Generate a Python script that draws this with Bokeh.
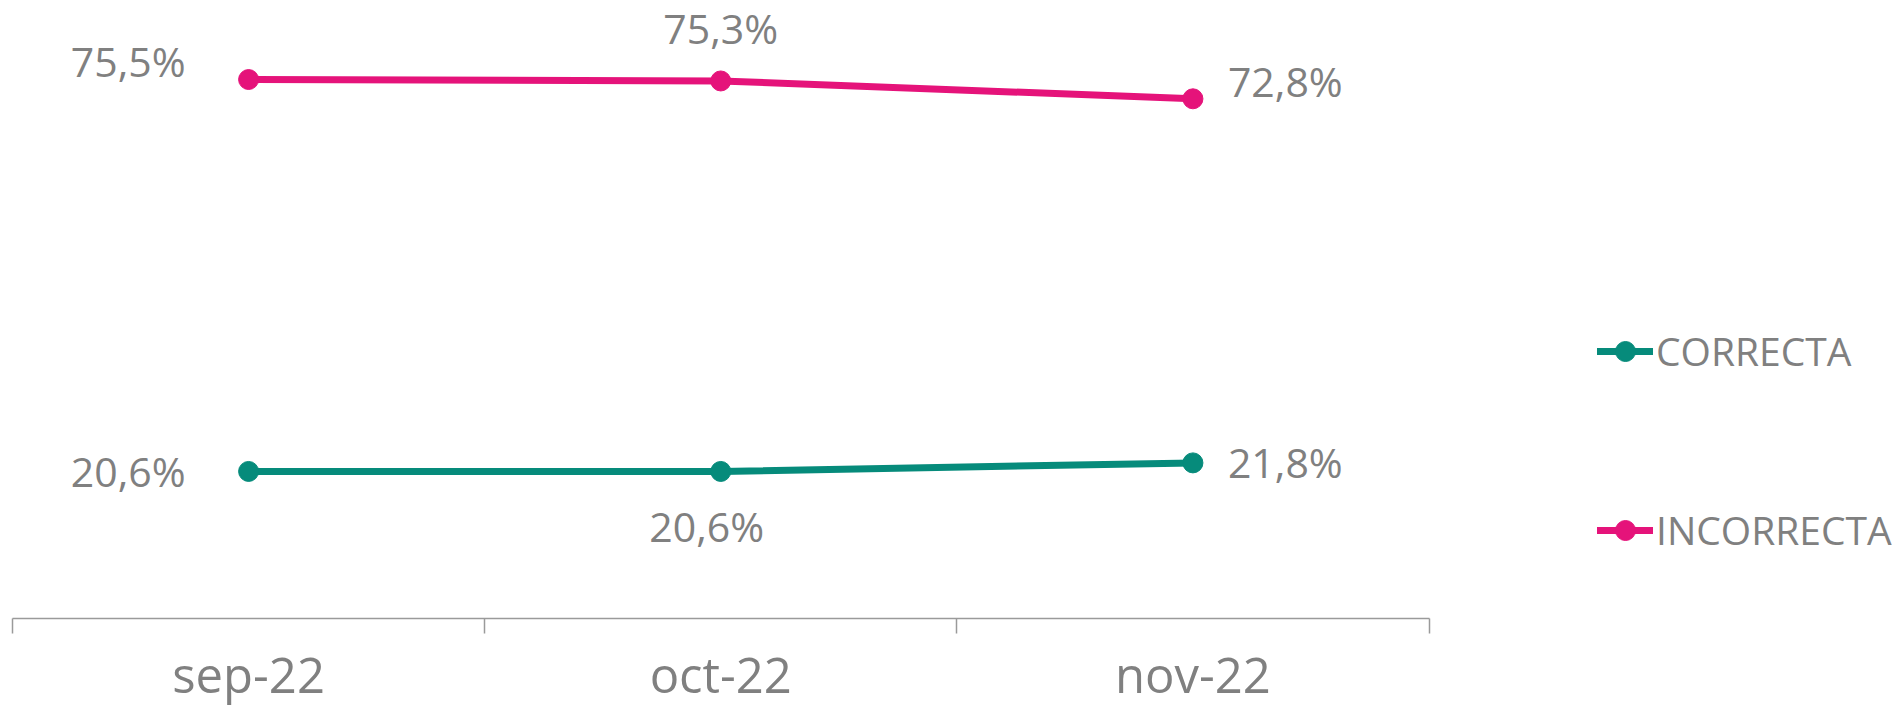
from bokeh.plotting import figure
from bokeh.models import Range1d, FixedTicker, LinearAxis, Legend, LegendItem
from bokeh.core.properties import value
from bokeh.embed import file_html
from bokeh.resources import INLINE

months = ["sep-22", "oct-22", "nov-22"]
correcta = [20.6, 20.6, 21.8]
incorrecta = [75.5, 75.3, 72.8]

TEAL = "#068B7B"
PINK = "#E5137A"
GRAY = "#808080"
AXIS_GRAY = "#9a9a9a"
FONT = "Open Sans"

xs = [i + 0.5 for i in range(len(months))]
bounds = [float(i) for i in range(len(months) + 1)]

p = figure(width=1903, height=711, output_backend="svg", toolbar_location=None,
           x_range=Range1d(-0.025414, 4.00492), y_range=Range1d(0, 86.57),
           min_border_left=0, min_border_right=0, min_border_top=0, min_border_bottom=93,
           x_axis_location=None, y_axis_location=None, outline_line_color=None)
p.xgrid.visible = False
p.ygrid.visible = False

axis = LinearAxis(ticker=FixedTicker(ticks=xs, minor_ticks=bounds), bounds=(0, len(months)),
                  major_label_overrides={x: m for x, m in zip(xs, months)},
                  major_tick_line_color=None, minor_tick_out=15, minor_tick_in=0,
                  minor_tick_line_color=AXIS_GRAY, minor_tick_line_width=1.5,
                  axis_line_color=AXIS_GRAY, axis_line_width=1.5,
                  major_label_text_font=FONT, major_label_text_font_size="49px",
                  major_label_text_color=GRAY, major_label_standoff=7)
p.add_layout(axis, "below")

r1 = p.line(xs, correcta, line_color=TEAL, line_width=7, line_cap="round")
s1 = p.scatter(xs, correcta, size=20, color=TEAL)
r2 = p.line(xs, incorrecta, line_color=PINK, line_width=7, line_cap="round")
s2 = p.scatter(xs, incorrecta, size=20, color=PINK)

def fmt(v):
    return f"{v:.1f}%".replace(".", ",")

# label placement per point: (align, dx, dy) in screen pixels
place_c = [("right", -63, 0), ("center", -14, 55), ("left", 35, -1)]
place_i = [("right", -63, -19), ("center", 0, -53), ("left", 35, -18)]

for vals, places in ((correcta, place_c), (incorrecta, place_i)):
    for x, v, (al, dx, dy) in zip(xs, vals, places):
        p.text(x=[x], y=[v], text=[fmt(v)], text_align=al, text_baseline="alphabetic",
               x_offset=dx, y_offset=dy, text_font=value(FONT), text_font_size="41px",
               text_color=GRAY)

legend = Legend(items=[LegendItem(label="CORRECTA", renderers=[r1, s1]),
                       LegendItem(label="INCORRECTA", renderers=[r2, s2])],
                location=(1597, 62), orientation="vertical",
                glyph_width=56, glyph_height=50, label_height=50, label_standoff=3,
                spacing=126, padding=0, margin=0, border_line_color=None,
                background_fill_alpha=0, label_text_font=FONT,
                label_text_font_size="39px", label_text_color=GRAY)
p.add_layout(legend)

open("out.html", "w").write(file_html(p, INLINE))
